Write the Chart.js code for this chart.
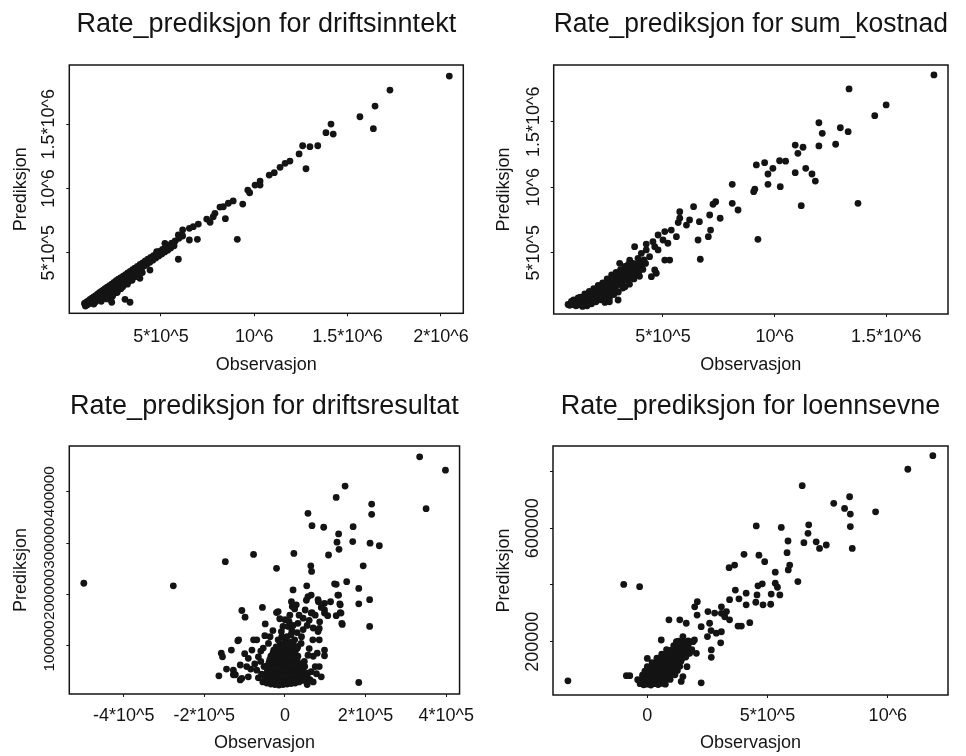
<!DOCTYPE html>
<html>
<head>
<meta charset="utf-8">
<script src="https://cdn.jsdelivr.net/npm/chart.js@4/dist/chart.umd.min.js"></script>
<style>
  html, body { margin: 0; padding: 0; background: #fff; }
  #wrap { position: relative; width: 966px; height: 756px; overflow: hidden; }
  .cell { position: absolute; width: 483px; height: 378px; }
  canvas { display: block; }
</style>
</head>
<body>
<div id="wrap">
  <div class="cell" style="left:0;top:0"><canvas id="c1" width="483" height="378"></canvas></div>
  <div class="cell" style="left:483px;top:0"><canvas id="c2" width="483" height="378"></canvas></div>
  <div class="cell" style="left:0;top:378px"><canvas id="c3" width="483" height="378"></canvas></div>
  <div class="cell" style="left:483px;top:378px"><canvas id="c4" width="483" height="378"></canvas></div>
</div>
<script>
// Observed vs. predicted values, [observasjon, prediksjon] in 1000 NOK.
const driftsinntekt = [
  [2045,1876],[1727,1767],[1647,1642],[1566,1559],[1638,1466],[1411,1502],[1384,1435],[1423,1424],
  [1340,1333],[1298,1326],[1259,1333],[1240,1269],[1277,1154],[1191,1214],[1165,1196],[1138,1165],
  [1107,1123],[1080,1105],[1031,1058],[1004,1027],[1031,1027],[965,988],[975,967],[938,879],
  [887,903],[861,885],[834,858],[816,855],[845,765],[789,807],[780,780],[763,737],[745,762],
  [700,723],[673,703],[652,690],[616,677],[593,638],[652,599],[695,604],[909,604],[593,449],
  [566,560],[521,573],[477,508],[441,365],[387,301],[334,114],[307,137],[236,114],[191,145],
  [227,196],[271,262],[316,262],[361,313],[93,100],
  [90,105],[100,114],[110,124],[120,136],[130,146],[140,156],[150,166],[160,177],[170,188],
  [180,198],[190,208],[200,220],[212,232],[224,244],[236,256],[248,268],[260,282],[272,294],
  [285,306],[298,318],[310,330],[322,342],[335,355],[348,368],[360,380],[374,394],[388,408],
  [402,421],[416,436],[430,450],[445,464],[460,478],[476,494],[492,510],[508,526],[524,542],
  [540,558],[558,574],[576,592],[596,612],[616,630],
  [95,84],[106,94],[118,105],[128,116],[138,126],[148,136],[158,146],[168,156],[178,166],
  [188,176],[198,186],[208,196],[218,206],[230,216],[242,228],[254,240],[266,252],[278,264],
  [292,278],[305,292],[318,305],[330,318],[344,330],[356,344],[370,356],[384,370],[398,384],
  [412,398],[426,412],[440,426],[456,442],[472,458],[488,474],[504,490],[520,506],[536,520],
  [552,536],[570,554],
  [150,118],[175,135],[200,150],[225,165],[250,185],[270,210],[295,235],[320,255],[345,285],
  [210,140],[265,190],[240,160],[300,250],[370,320],[400,345],[180,122],[140,100],[330,280],[285,220]
];

const sumKostnad = [
  [1713,1857],[1333,1750],[1499,1628],[1448,1546],[1198,1492],[1294,1454],[1329,1424],[1213,1411],
  [1273,1328],[1198,1315],[1092,1322],[1127,1305],[1104,1259],[1022,1202],[1049,1199],[955,1187],
  [918,1170],[992,1144],[970,1101],[1092,1111],[1139,1144],[1167,1101],[1182,1047],[970,1022],
  [1025,1004],[810,1022],[906,966],[911,985],[1119,859],[1373,877],[810,877],[836,826],[736,889],
  [724,870],[637,851],[925,602],[667,450],[709,788],[756,763],[703,622],[657,597],[713,673],
  [663,737],[619,750],[575,763],[568,730],[575,813],[605,711],[537,673],[560,622],[508,661],
  [500,597],[522,572],[478,635],[455,584],[463,546],[478,521],[508,444],[530,444],[463,368],
  [448,317],[470,343],[425,566],[425,521],[440,470],[403,495],[373,546],[388,457],[351,444],
  [306,419],[366,419],
  [75,105],[82,98],[88,112],[95,104],[100,120],[108,110],[112,130],[118,100],[122,140],[128,118],
  [135,105],[140,135],[145,150],[150,122],[155,165],[160,140],[165,110],[170,180],[175,155],
  [180,130],[185,195],[190,170],[195,145],[200,210],[205,185],[210,160],[215,230],[220,200],
  [225,175],[230,245],[235,215],[240,190],[245,260],[250,232],[255,205],[260,150],[262,280],
  [268,250],[272,222],[278,295],[283,268],[288,240],[292,315],[297,285],[302,258],[306,330],
  [312,300],[316,272],[320,345],[326,318],[330,290],[336,362],[340,335],[345,305],[350,380],
  [355,350],[360,322],[365,395],[370,368],[376,340],[380,410],[386,385],[392,355],[398,430],
  [404,400],[410,372],[415,445],[422,418],[300,200],[280,180],[330,240],[350,260],[250,300],
  [230,270],[210,250],[190,225],[170,205],[150,185],[130,160],[120,155],[100,140],[90,128],
  [180,110],[200,125],[240,160],[220,140],[370,300],[395,320],[270,330],[290,350],[310,370],
  [260,170],[240,120],[330,395],[160,95],[140,90],[110,95],[260,125],[320,230],[345,410],[275,200],
  [231,152],[299,139],[217,236]
];

const driftsresultat = [
  [-499,222],[-277,217],[-148,264],[-78,278],[-21,251],[22,280],[57,358],[67,334],[96,331],
  [149,411],[127,389],[334,468],[398,442],[350,367],[215,376],[215,356],[169,332],[133,318],
  [129,302],[168,303],[134,288],[211,300],[234,295],[108,277],[194,256],[64,256],[66,245],
  [153,225],[127,220],[54,217],[183,212],[20,209],[133,199],[65,199],[53,189],[210,190],
  [183,182],[113,186],[83,186],[137,180],[137,165],[127,159],[142,142],[210,138],[106,159],
  [98,170],[67,165],[16,186],[18,177],[-56,175],[-107,169],[-99,156],[-21,165],[-49,143],
  [-13,153],[-117,110],[-78,112],[-133,92],[-158,86],[-155,79],[-164,42],[-128,44],[-111,34],
  [183,29],[78,46],[62,34],[98,81],[80,86],[85,112],[85,134],
  [123,221],[131,199],[136,182],[139,164],[141,144],[98,183],[65,164],[57,196],[82,190],
  [98,164],[86,147],[82,128],[69,112],[98,92],[57,82],[57,47],[32,66],[49,60],
  [28,180],[24,172],[12,160],[0,151],[8,138],[-9,128],[17,130],[32,144],[45,154],[-17,112],
  [0,110],[24,112],[41,118],[32,99],[8,92],[-25,92],
  [-17,167],[-70,112],[-115,112],[-128,53],[-123,44],[-111,63],[-107,37],[-91,76],[-82,92],
  [-66,79],[-54,96],[-70,53],[-91,40],[-66,38],[-41,105],[-37,118],
  [-45,28],[-35,26],[-25,25],[-15,24],[-5,25],[5,26],[15,27],[25,28],[35,30],[45,33],
  [-48,42],[-38,38],[-28,36],[-18,35],[-8,34],[2,36],[12,37],[22,39],[32,42],[42,46],
  [-42,54],[-32,52],[-22,50],[-12,48],[-2,47],[8,50],[18,52],[28,56],[38,60],
  [-40,67],[-30,65],[-20,63],[-10,61],[0,63],[10,65],[20,69],[30,73],
  [-35,80],[-25,78],[-15,77],[-5,76],[5,79],[15,83],[25,87],
  [-28,92],[-18,90],[-8,89],[2,93],[12,97],[20,101],[-12,103],[-2,106],[8,105],
  [-55,30],[-58,45],[50,40],[55,25],[-52,60],[48,70],
  [-50,35],[-40,33],[-30,31],[-20,30],[-10,30],[0,31],[10,32],[20,33],[30,36],[40,39],[50,36],
  [-45,48],[-35,46],[-25,44],[-15,42],[-5,41],[5,43],[15,45],[25,47],[35,51],[45,55],
  [-46,61],[-36,59],[-26,57],[-16,55],[-6,54],[4,56],[14,59],[24,62],[34,66],[44,63],
  [-38,73],[-28,71],[-18,70],[-8,68],[2,70],[12,73],[22,77],[32,80],
  [-30,86],[-20,84],[-10,83],[0,84],[10,88],[20,92],[30,95],
  [-22,98],[-12,96],[-2,99],[8,100],[16,108],
  [5,118],[15,122],[30,126],[45,132],[55,140],[20,140],[35,160],[50,170],[60,150],[70,135],
  [75,160],[90,175],[10,148],[-5,138],[40,105],[60,95],[70,80],[75,60],[65,50],[60,35],
  [70,30],[85,60],[90,40],[-60,70],[-75,65],[-85,55],[-95,60],[-100,85],[-145,55],[-60,90],
  [-50,120],[-30,130],[-8,118]
];

const loennsevne = [
  [1187,856],[1083,808],[644,750],[841,711],[775,688],[820,670],[844,650],[949,658],[844,606],
  [852,529],[453,608],[557,603],[671,612],[668,582],[651,549],[585,555],[702,552],[716,529],
  [744,541],[581,514],[402,508],[464,505],[488,482],[363,470],[340,461],[592,470],[586,453],
  [532,445],[626,412],[532,406],[541,392],[478,404],[460,397],[456,365],[515,368],[551,365],
  [513,332],[481,330],[451,339],[411,371],[381,351],[342,348],[366,382],[411,330],[426,267],
  [391,255],[377,255],[308,323],[329,306],[322,288],[342,277],[308,300],[280,301],[252,306],
  [208,341],[197,323],[207,294],[135,277],[90,277],[162,265],[224,253],[259,265],[265,239],
  [287,230],[308,235],[305,196],[250,218],[266,171],[266,145],[-98,402],[-32,394],[-330,62],
  [224,55],[-73,80],[-87,80],[0,141],[58,206],[121,200],[148,218],[196,206],[176,159],
  [165,112],[148,77],[141,60],[204,159],
  [-30,52],[-15,48],[0,50],[15,47],[30,52],[45,49],[60,53],[75,50],
  [-40,66],[-25,63],[-10,67],[5,64],[20,68],[35,65],[50,69],[65,66],[80,70],[95,67],
  [-20,82],[-5,79],[10,83],[25,80],[40,84],[55,81],[70,85],[85,82],[100,86],[115,83],
  [-10,96],[5,94],[20,98],[35,95],[50,99],[65,96],[80,100],[95,97],[110,101],[125,98],
  [0,112],[15,109],[30,113],[45,110],[60,114],[75,111],[90,115],[105,112],[120,116],[135,113],
  [20,126],[35,124],[50,128],[65,125],[80,129],[95,126],[110,130],[125,127],[140,131],
  [40,142],[55,139],[70,143],[85,140],[100,144],[115,141],[130,145],[145,142],[160,146],
  [60,156],[75,153],[90,158],[105,155],[120,159],[135,156],[150,160],[165,157],
  [80,172],[95,169],[110,173],[125,170],[140,174],[155,171],[170,175],[185,172],
  [110,186],[125,184],[140,188],[155,185],[170,189],[130,202],[150,199],[170,203],[190,200]
];

// Axis ticks (1000 NOK) and the labels printed at them.
const ticksMillion = [500, 1000, 1500, 2000];
const labelsMillion = ['5*10^5', '10^6', '1.5*10^6', '2*10^6'];
const ticksResultatX = [-400, -200, 0, 200, 400];
const labelsResultatX = ['-4*10^5', '-2*10^5', '0', '2*10^5', '4*10^5'];
const ticksResultatY = [100, 200, 300, 400];
const labelsResultatY = ['100000', '200000', '300000', '400000'];
const ticksLoennX = [0, 500, 1000];
const labelsLoennX = ['0', '5*10^5', '10^6'];
const ticksLoennY = [200, 400, 600, 800];
const labelsLoennY = ['200000', '', '600000', ''];

const titles = [
  'Rate_prediksjon for driftsinntekt',
  'Rate_prediksjon for sum_kostnad',
  'Rate_prediksjon for driftsresultat',
  'Rate_prediksjon for loennsevne'
];

const FONT = '"Liberation Sans", Arial, Helvetica, sans-serif';
const INK = '#141414';

function labelAt(values, labels, v) {
  const i = values.indexOf(v);
  return i >= 0 ? labels[i] : '';
}

// Box around the plotting region.
const framePlugin = {
  id: 'frame',
  beforeDatasetsDraw(chart) {
    const { ctx, chartArea: a } = chart;
    ctx.save();
    ctx.strokeStyle = INK;
    ctx.lineWidth = 1.5;
    ctx.strokeRect(a.left, a.top, a.right - a.left, a.bottom - a.top);
    ctx.restore();
  }
};

// Y tick labels written parallel to the axis, centred on their ticks.
const uprightYLabels = {
  id: 'uprightYLabels',
  afterDraw(chart, args, opts) {
    const scale = chart.scales.y;
    const { ctx, chartArea } = chart;
    ctx.save();
    ctx.font = opts.size + 'px ' + FONT;
    ctx.fillStyle = INK;
    ctx.textAlign = 'center';
    ctx.textBaseline = 'middle';
    scale.ticks.forEach(t => {
      const text = labelAt(opts.values, opts.labels, t.value);
      if (!text) return;
      ctx.save();
      ctx.translate(chartArea.left - opts.gap, scale.getPixelForValue(t.value));
      ctx.rotate(-Math.PI / 2);
      ctx.fillText(text, 0, 0);
      ctx.restore();
    });
    ctx.restore();
  }
};

const panels = [
  { canvas: 'c1', title: titles[0], points: driftsinntekt,
    xMin: 8.6, xMax: 2120, yMin: 28, yMax: 1962,
    xTicks: ticksMillion, xLabels: labelsMillion,
    yTicks: ticksMillion.slice(0, 3), yLabels: labelsMillion.slice(0, 3), yFont: 18,
    padRight: 19.7, yWidth: 69.3, titleTop: 8.8, titleBottom: 23.8, xHeight: 64.7, xTickPad: 10.4 },
  { canvas: 'c2', title: titles[1], points: sumKostnad,
    xMin: 10.7, xMax: 1776, yMin: 32, yMax: 1933,
    xTicks: ticksMillion.slice(0, 3), xLabels: labelsMillion.slice(0, 3),
    yTicks: ticksMillion.slice(0, 3), yLabels: labelsMillion.slice(0, 3), yFont: 18,
    padRight: 18, yWidth: 70.7, titleTop: 8.8, titleBottom: 23.8, xHeight: 64, xTickPad: 9.7 },
  { canvas: 'c3', title: titles[2], points: driftsresultat,
    xMin: -535, xMax: 433, yMin: 6.6, yMax: 489,
    xTicks: ticksResultatX, xLabels: labelsResultatX,
    yTicks: ticksResultatY, yLabels: labelsResultatY, yFont: 15.3,
    padRight: 20.3, yWidth: 69.3, titleTop: 12.8, titleBottom: 22.8, xHeight: 62, xTickPad: 8.2 },
  { canvas: 'c4', title: titles[3], points: loennsevne,
    xMin: -392, xMax: 1250, yMin: 12, yMax: 890,
    xTicks: ticksLoennX, xLabels: labelsLoennX,
    yTicks: ticksLoennY, yLabels: labelsLoennY, yFont: 18,
    padRight: 18, yWidth: 70, titleTop: 12.8, titleBottom: 22.8, xHeight: 61, xTickPad: 7.2 }
];

function makePanel(p) {
  return new Chart(document.getElementById(p.canvas), {
    type: 'scatter',
    data: {
      datasets: [{
        data: p.points.map(([x, y]) => ({ x, y })),
        pointRadius: 3.4,
        pointHoverRadius: 3.4,
        pointStyle: 'circle',
        backgroundColor: INK,
        borderWidth: 0,
        clip: false
      }]
    },
    plugins: [framePlugin, uprightYLabels],
    options: {
      responsive: false,
      animation: false,
      events: [],
      layout: { padding: { left: 0, right: p.padRight, top: 0, bottom: 0 } },
      plugins: {
        legend: { display: false },
        tooltip: { enabled: false },
        title: {
          display: true, text: p.title, fullSize: false, color: INK,
          font: { family: FONT, size: 27, weight: 'normal' },
          padding: { top: p.titleTop, bottom: p.titleBottom }
        },
        uprightYLabels: { values: p.yTicks, labels: p.yLabels, gap: 20, size: p.yFont }
      },
      scales: {
        x: {
          type: 'linear', position: 'bottom', min: p.xMin, max: p.xMax,
          afterBuildTicks: s => { s.ticks = p.xTicks.map(v => ({ value: v })); },
          afterFit: s => { s.height = p.xHeight; },
          ticks: {
            autoSkip: false, minRotation: 0, maxRotation: 0, padding: p.xTickPad,
            color: INK, font: { family: FONT, size: 18 },
            callback: v => labelAt(p.xTicks, p.xLabels, v)
          },
          grid: { drawOnChartArea: false, drawTicks: true, tickLength: 3, color: INK, lineWidth: 1 },
          border: { display: false },
          title: {
            display: true, text: 'Observasjon', color: INK,
            font: { family: FONT, size: 18 }, padding: { top: 0, bottom: 2.2 }
          }
        },
        y: {
          type: 'linear', position: 'left', min: p.yMin, max: p.yMax,
          afterBuildTicks: s => { s.ticks = p.yTicks.map(v => ({ value: v })); },
          afterFit: s => { s.width = p.yWidth; },
          ticks: { display: false },
          grid: { drawOnChartArea: false, drawTicks: true, tickLength: 3, color: INK, lineWidth: 1 },
          border: { display: false },
          title: {
            display: true, text: 'Prediksjon', color: INK,
            font: { family: FONT, size: 18 }, padding: { top: 10.2, bottom: 0 }
          }
        }
      }
    }
  });
}

panels.forEach(makePanel);
</script>
</body>
</html>
